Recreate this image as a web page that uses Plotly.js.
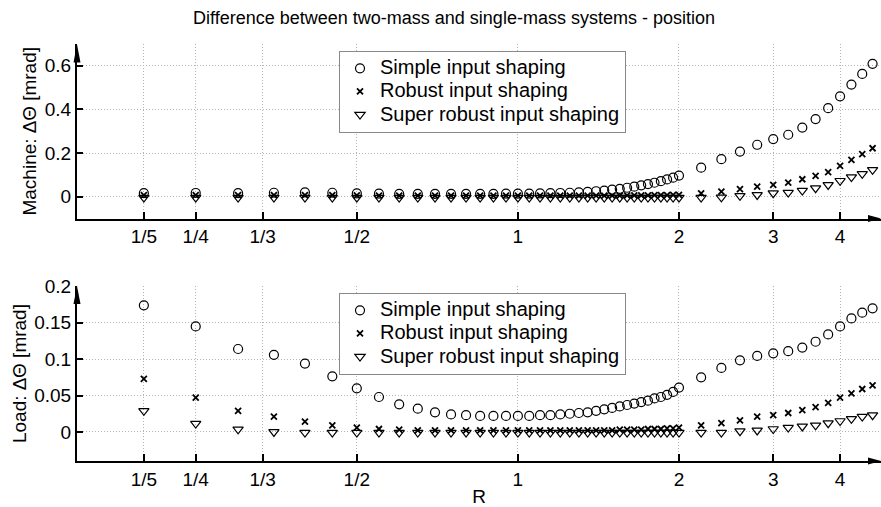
<!DOCTYPE html>
<html>
<head>
<meta charset="utf-8">
<script src="https://cdn.plot.ly/plotly-3.0.1.min.js"></script>
<style>html,body{margin:0;padding:0;background:#fff;}#chart{width:881px;height:507px;}</style>
</head>
<body>
<div id="chart"></div>
<script>
// ---- data ----
const R = [0.2,0.25,0.3,0.35,0.4,0.45,0.5,0.55,0.6,0.65,0.7,0.75,0.8,0.85,0.9,0.95,1,
  1.05,1.1,1.15,1.2,1.25,1.3,1.35,1.4,1.45,1.5,1.55,1.6,1.65,1.7,1.75,1.8,1.85,1.9,1.95,2,
  2.2,2.4,2.6,2.8,3.0,3.2,3.4,3.6,3.8,4.0,4.2,4.4,4.6];

const machineSimple = [0.016,0.017,0.016,0.018,0.020,0.018,0.015,0.014,0.013,0.013,0.013,0.013,0.013,0.013,0.013,0.014,0.014,
  0.014,0.015,0.016,0.017,0.018,0.020,0.022,0.025,0.028,0.032,0.036,0.041,0.046,0.052,0.058,0.064,0.071,0.079,0.087,0.097,
  0.133,0.172,0.207,0.238,0.264,0.284,0.317,0.356,0.406,0.460,0.514,0.563,0.609];
const machineRobust = [0.007,0.007,0.007,0.007,0.007,0.007,0.006,0.005,0.005,0.005,0.005,0.005,0.005,0.005,0.005,0.005,0.005,
  0.005,0.005,0.005,0.005,0.005,0.005,0.005,0.005,0.005,0.005,0.005,0.006,0.006,0.006,0.006,0.007,0.007,0.007,0.008,0.008,
  0.015,0.023,0.035,0.046,0.054,0.064,0.080,0.095,0.113,0.141,0.169,0.195,0.222];
const machineSuper = [-0.004,-0.004,-0.004,-0.004,-0.004,-0.004,-0.004,-0.004,-0.004,-0.004,-0.004,-0.004,-0.004,-0.004,-0.004,-0.004,-0.004,
  -0.004,-0.004,-0.004,-0.004,-0.004,-0.004,-0.004,-0.004,-0.004,-0.004,-0.004,-0.004,-0.004,-0.004,-0.004,-0.004,-0.004,-0.004,-0.004,-0.004,
  -0.004,-0.003,0.004,0.008,0.016,0.019,0.028,0.039,0.054,0.073,0.090,0.105,0.123];

const loadSimple = [0.174,0.145,0.114,0.106,0.094,0.0765,0.060,0.048,0.038,0.032,0.027,0.024,0.023,0.022,0.022,0.022,0.022,
  0.022,0.023,0.023,0.024,0.025,0.026,0.027,0.029,0.031,0.033,0.035,0.037,0.039,0.041,0.043,0.046,0.048,0.051,0.055,0.061,
  0.075,0.088,0.0985,0.1045,0.108,0.111,0.116,0.124,0.134,0.145,0.156,0.164,0.170];
const loadRobust = [0.073,0.047,0.029,0.021,0.014,0.009,0.006,0.004,0.003,0.002,0.002,0.002,0.002,0.002,0.002,0.002,0.002,
  0.002,0.002,0.002,0.002,0.002,0.002,0.002,0.002,0.002,0.002,0.003,0.003,0.003,0.003,0.004,0.004,0.004,0.005,0.005,0.006,
  0.009,0.012,0.016,0.021,0.023,0.026,0.030,0.034,0.040,0.047,0.053,0.059,0.064];
const loadSuper = [0.029,0.0115,0.0035,0.000,-0.001,-0.001,-0.001,-0.001,-0.001,-0.001,-0.001,-0.001,-0.001,-0.001,-0.001,-0.001,-0.001,
  -0.001,-0.001,-0.001,-0.001,-0.001,-0.001,-0.001,-0.001,-0.001,-0.001,-0.001,-0.001,-0.001,-0.001,-0.001,-0.001,-0.001,-0.001,-0.001,-0.001,
  -0.001,-0.001,0.001,0.002,0.004,0.006,0.0075,0.009,0.012,0.015,0.018,0.021,0.023];

const seriesNames = ['Simple input shaping','Robust input shaping','Super robust input shaping'];
const xTickVals = [0.2,0.25,1/3,0.5,1,2,3,4];
const xTickText = ['1/5','1/4','1/3','1/2','1','2','3','4'];
const yTopTicks = [0,0.2,0.4,0.6];
const yTopText = ['0','0.2','0.4','0.6'];
const yBotTicks = [0,0.05,0.1,0.15,0.2];
const yBotText = ['0','0.05','0.1','0.15','0.2'];

// ---- styling ----
const FONT = 'Liberation Sans, Arial, Helvetica, sans-serif';
const markerStyles = [
  {symbol:'circle-open', size:9, color:'#000', line:{width:1.2, color:'#000'}},
  {symbol:'x-thin-open', size:6, color:'#000', line:{width:1.8, color:'#000'}},
  {symbol:'triangle-down-open', size:9, color:'#000', line:{width:1.2, color:'#000'}}
];
function mk(y, i, xa, ya, lg){
  return {x:R, y:y, type:'scatter', mode:'markers',
    name:'<span style="font-size:20px">'+seriesNames[i]+'</span>',
    xaxis:xa, yaxis:ya, legend:lg, marker:markerStyles[i], cliponaxis:false};
}
const traces = [
  mk(machineSimple,0,'x','y','legend'), mk(machineRobust,1,'x','y','legend'), mk(machineSuper,2,'x','y','legend'),
  mk(loadSimple,0,'x2','y2','legend2'), mk(loadRobust,1,'x2','y2','legend2'), mk(loadSuper,2,'x2','y2','legend2')
];

const W=881,H=507,ML=77,MR=0,MT=44,MB=46;
const PW=W-ML-MR, PH=H-MT-MB;
const px=v=>(v-ML)/PW, py=v=>(H-MB-v)/PH;
const topBottomPx=218.5, botTopPx=286.1;
const topDom=[py(topBottomPx),1], botDom=[0,py(botTopPx)];

function xax(extra){
  return Object.assign({type:'log', range:[Math.log10(0.15),Math.log10(4.77)],
    tickvals:xTickVals, ticktext:xTickText, ticks:'inside', ticklen:7, tickwidth:2, tickcolor:'#000',
    showline:true, linewidth:2, linecolor:'#000', showgrid:true, gridcolor:'#b4b4b4', griddash:'1px,2px', gridwidth:1,
    zeroline:false, tickfont:{family:FONT,size:19,color:'#000'}, domain:[0,1]}, extra);
}
function yax(extra){
  return Object.assign({ticks:'inside', ticklen:6, tickwidth:2, tickcolor:'#000',
    showline:true, linewidth:2, linecolor:'#000', showgrid:true, gridcolor:'#b4b4b4', griddash:'1px,2px', gridwidth:1,
    zeroline:false, tickfont:{family:FONT,size:19,color:'#000'}}, extra);
}
function arrowUp(tipPx){
  const x0=px(ML), dx=3.5/PW, t=py(tipPx), b=py(tipPx+18);
  return {type:'path', xref:'paper', yref:'paper', path:`M ${x0-dx} ${b} L ${x0} ${t} L ${x0+dx} ${b} Z`,
    fillcolor:'#000', line:{color:'#000', width:0}};
}
function arrowRight(axisPx){
  const yc=py(axisPx), dy=3.5/PH, t=1, b=px(W-13);
  return {type:'path', xref:'paper', yref:'paper', path:`M ${b} ${yc-dy} L ${t} ${yc} L ${b} ${yc+dy} Z`,
    fillcolor:'#000', line:{color:'#000', width:0}};
}
const legendBase = {xref:'paper', yref:'paper', xanchor:'left', yanchor:'top', bgcolor:'#fff', bordercolor:'#888', borderwidth:1,
  font:{family:FONT,size:15.5,color:'#000'}, itemwidth:30, tracegroupgap:0};

const layout = {
  width:W, height:H, margin:{l:ML,r:MR,t:MT,b:MB}, paper_bgcolor:'#fff', plot_bgcolor:'#fff',
  font:{family:FONT,size:19,color:'#000'}, hovermode:false,
  title:{text:'Difference between two-mass and single-mass systems - position', font:{family:FONT,size:18,color:'#000'},
    xref:'paper', x:px(454), xanchor:'center', yref:'container', y:1-18/H, yanchor:'middle'},
  xaxis: xax({anchor:'y'}),
  yaxis: yax({domain:topDom, anchor:'x', range:[-0.1,0.7], tickvals:yTopTicks, ticktext:yTopText,
    title:{text:'Machine: ΔΘ [mrad]', font:{family:FONT,size:19,color:'#000'}, standoff:3}}),
  xaxis2: xax({anchor:'y2', title:{text:'R', font:{family:FONT,size:19,color:'#000'}, standoff:4}}),
  yaxis2: yax({domain:botDom, anchor:'x2', range:[-0.04,0.2005], tickvals:yBotTicks, ticktext:yBotText,
    title:{text:'Load: ΔΘ [mrad]', font:{family:FONT,size:19,color:'#000'}, standoff:3}}),
  legend: Object.assign({}, legendBase, {x:px(339), y:py(50.7)}),
  legend2: Object.assign({}, legendBase, {x:px(339), y:py(292.7)}),
  shapes:[arrowUp(44.5), arrowUp(botTopPx), arrowRight(topBottomPx), arrowRight(H-MB)],
  showlegend:true
};
Plotly.newPlot('chart', traces, layout, {staticPlot:true, displayModeBar:false});
</script>
</body>
</html>
